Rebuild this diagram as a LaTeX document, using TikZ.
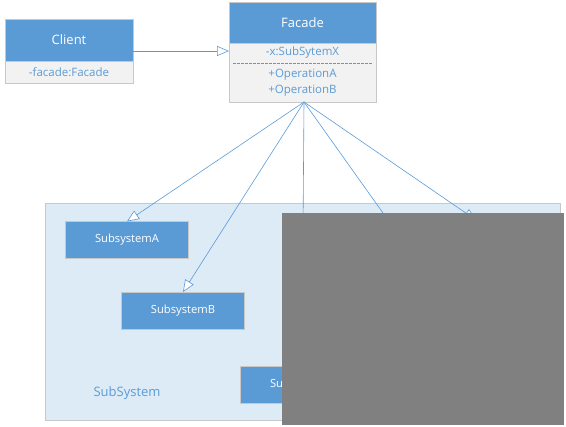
\documentclass[tikz,border=0pt]{standalone}
\usepackage{fontspec}
\setmainfont{Open Sans}
\usepackage{tikz}
\usetikzlibrary{arrows.meta,positioning,calc}

\definecolor{umlblue}{HTML}{5B9BD5}
\definecolor{umlbody}{HTML}{F2F2F2}
\definecolor{umlframe}{HTML}{C8C8C8}
\definecolor{packfill}{HTML}{DDEBF7}
\definecolor{maskgray}{HTML}{808080}

\begin{document}
\begin{tikzpicture}[x=1pt,y=-1pt,inner sep=0pt,outer sep=0pt]
  \tikzstyle{header}=[rectangle,fill=umlblue,draw=umlframe,line width=0.8pt,text=white,font=\fontsize{13}{15}\selectfont]
  \tikzstyle{member}=[rectangle,fill=umlbody,text=umlblue,font=\fontsize{11.5}{16}\selectfont,align=center]
  \tikzstyle{subsys}=[rectangle,fill=umlblue,draw=umlframe,line width=0.8pt,text=white,font=\fontsize{11.2}{12}\selectfont,minimum width=123pt,minimum height=37pt]
  \tikzstyle{link}=[draw=umlblue,line width=0.6pt,-{Triangle[open,length=12pt,width=10pt,fill=white]}]

  \useasboundingbox (0,0) rectangle (566,427);

  % package frame
  \node[rectangle,fill=packfill,draw=umlframe,line width=0.8pt,minimum width=515pt,minimum height=217pt] (subsystem) at (302.5,311.5) {};
  \node[text=umlblue,font=\fontsize{13}{15}\selectfont] (packname) at (127,393) {SubSystem};

  % classes
  \node[header,minimum width=128pt,minimum height=42pt] (client) at (69,40) {Client};
  \node[member,draw=umlframe,line width=0.8pt,minimum width=128pt,minimum height=22pt] (clientattr) [below=0pt of client] {-facade:Facade};

  \node[header,minimum width=147pt,minimum height=41pt] (facade) at (302.5,22.5) {Facade};
  \node[member,minimum width=147pt,minimum height=20pt] (facadeattr) [below=0pt of facade] {-x:SubSytemX};
  \node[member,minimum width=147pt,minimum height=39pt] (facadeops) [below=0pt of facadeattr] {+OperationA\\+OperationB};
  \draw[umlframe,line width=0.8pt] (facadeattr.north west) rectangle (facadeops.south east);
  \draw[umlblue,line width=0.6pt,dash pattern=on 3pt off 1pt] ([xshift=4pt]facadeattr.south west) -- ([xshift=-4pt]facadeattr.south east);

  \node[subsys] (suba) at (127,240) {SubsystemA};
  \node[subsys] (subb) at (183,310.5) {SubsystemB};
  \node[subsys] (subc) at (302,384.5) {SubsystemC};

  \coordinate (subd) at (420,265);
  \coordinate (sube) at (476,220);
  \coordinate (apex) at (304,102);
  \coordinate (clientside) at ($(client.north east)!0.5!(clientattr.south east)$);

  \path
  (clientside) edge[link] (facade.west |- clientside)
  (apex) edge[link] (suba.north)
         edge[link] (subb.north)
         edge[link] (subc.north)
         edge[link] (subd)
         edge[link] (sube);

  % covered area
  \fill[maskgray] (282,213) rectangle (564,425);
\end{tikzpicture}
\end{document}
